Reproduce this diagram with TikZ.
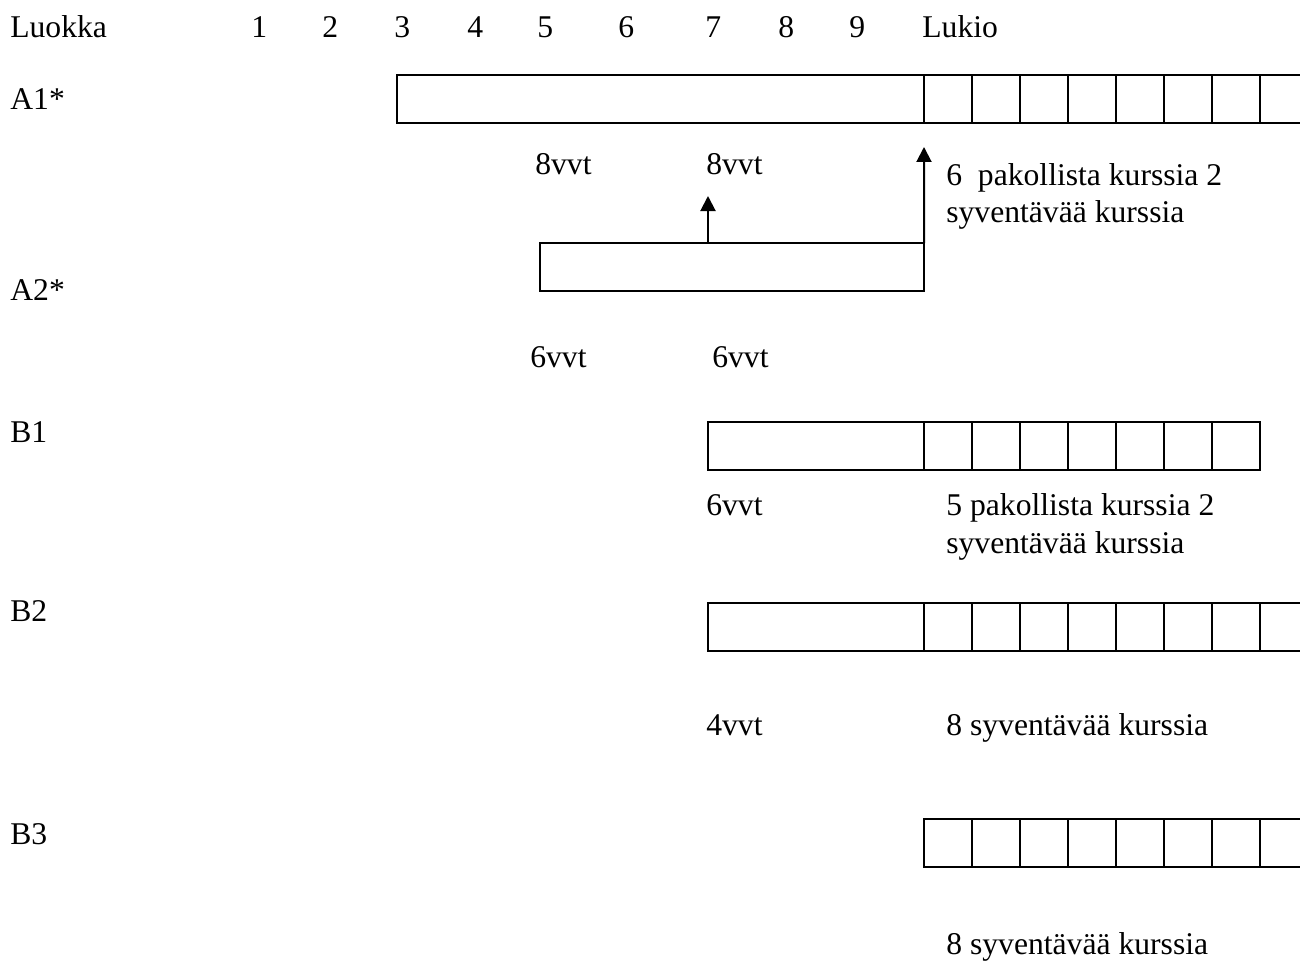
\documentclass[tikz,border=0pt]{standalone}
\usepackage{fontspec}
\setmainfont{Liberation Serif}
\usetikzlibrary{arrows.meta, positioning}

\begin{document}
\begin{tikzpicture}[
    x=0.2mm, y=-0.2mm,
    every node/.style={font=\fontsize{18}{22}\selectfont},
    txt/.style={anchor=base west, inner sep=0pt},
    bar/.style={
        rectangle, draw, line width=0.4mm,
        anchor=north west, inner sep=0pt, outer sep=0pt,
        minimum height=9.6mm
    },
    cellbox/.style={draw, line width=0.4mm},
    arrow/.style={-{Triangle[length=3mm, width=3mm]}, line width=0.4mm}
]
\useasboundingbox (0,0) rectangle (1300,964);
\clip (0,0) rectangle (1300,964);

% --- Header ---
\node[txt] (luokka) at (10,38) {Luokka};
\foreach \n/\x in {1/251, 2/322, 3/394, 4/467, 5/537, 6/618, 7/705, 8/778, 9/849}
    \node[txt] (g\n) at (\x,38) {\n};
\node[txt] (lukio) at (922,38) {Lukio};

% --- Row labels ---
\node[txt] (la1) at (10,110) {A1*};
\node[txt] (la2) at (10,300) {A2*};
\node[txt] (lb1) at (10,442) {B1};
\node[txt] (lb2) at (10,621) {B2};
\node[txt] (lb3) at (10,844) {B3};

% --- A1 ---
\node[bar, minimum width=105.4mm] (a1) at (397,75) {};
\foreach \i in {0,...,7}
    \draw[cellbox] (924+48*\i,75) rectangle ++(48,48);
\node[txt] (a1v5) at (535,175) {8vvt};
\node[txt] (a1v7) at (706,175) {8vvt};
\node[txt] (a1k1) at (946,185) {6\ \ pakollista kurssia 2};
\node[txt] (a1k2) at (946,222) {syventävää kurssia};

% --- A2 ---
\node[bar, minimum width=76.8mm] (a2) at (540,243) {};
\coordinate (up7) at (708,196);
\coordinate (uplukio) at (924,147);
\draw[arrow] (up7 |- a2.north) -- (up7);
\draw[arrow] (a2.north east) -- (uplukio);
\node[txt] (a2v5) at (530,367) {6vvt};
\node[txt] (a2v7) at (712,367) {6vvt};

% --- B1 ---
\node[bar, minimum width=43.2mm] (b1) at (708,422) {};
\foreach \i in {0,...,6}
    \draw[cellbox] (924+48*\i,422) rectangle ++(48,48);
\node[txt] (b1v7) at (706,515) {6vvt};
\node[txt] (b1k1) at (946,515) {5 pakollista kurssia 2};
\node[txt] (b1k2) at (946,553) {syventävää kurssia};

% --- B2 ---
\node[bar, minimum width=43.2mm] (b2) at (708,603) {};
\foreach \i in {0,...,7}
    \draw[cellbox] (924+48*\i,603) rectangle ++(48,48);
\node[txt] (b2v7) at (706,735) {4vvt};
\node[txt] (b2k) at (946,735) {8 syventävää kurssia};

% --- B3 ---
\foreach \i in {0,...,7}
    \draw[cellbox] (924+48*\i,819) rectangle ++(48,48);
\node[txt] (b3k) at (946,954) {8 syventävää kurssia};

\end{tikzpicture}
\end{document}
